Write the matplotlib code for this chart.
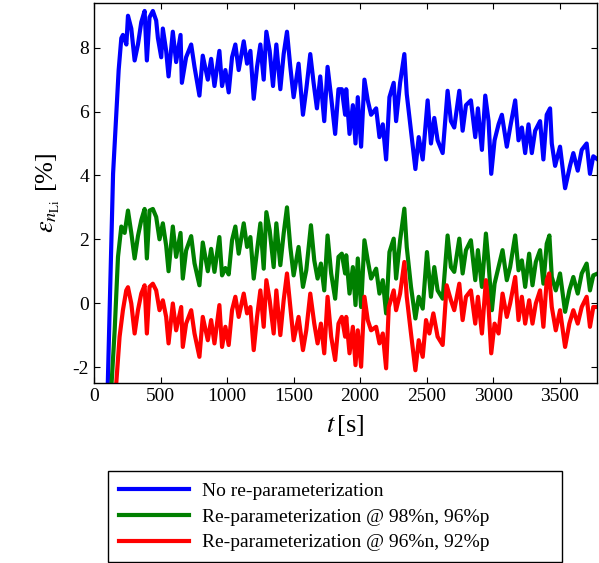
import numpy as np
import matplotlib.pyplot as plt

plt.rcParams['font.family'] = 'Liberation Serif'
plt.rcParams['mathtext.fontset'] = 'stix'
plt.rcParams['axes.unicode_minus'] = False

# values: time [s] and error [%]
t_blue = [98, 143, 168, 185, 205, 217, 243, 255, 280, 305, 330, 355, 380, 397, 417, 442, 467, 480, 505, 517,
          542, 560, 592, 617, 650, 660, 692, 730, 755, 792, 817, 855, 880, 905, 942,
          962, 987, 1012, 1037, 1062, 1087, 1125, 1150, 1175, 1200, 1225, 1250, 1275, 1295, 1320, 1345, 1370, 1400,
          1425, 1450, 1475, 1500, 1537, 1570, 1595, 1625, 1650, 1675, 1700, 1730, 1755, 1782, 1812, 1837, 1862, 1887,
          1895, 1920, 1945, 1965, 1982, 2007, 2032, 2057, 2082, 2120, 2145, 2170, 2195, 2220, 2252, 2270, 2300, 2332,
          2350, 2382, 2415, 2440, 2470, 2507, 2532, 2557, 2582, 2620, 2657, 2682, 2707, 2745, 2770, 2795, 2832,
          2865, 2885, 2915, 2940, 2965, 2985, 3010, 3040, 3065, 3102, 3127, 3165, 3190, 3215, 3240, 3265, 3290, 3315,
          3352, 3377, 3402, 3427, 3440, 3465, 3502, 3540, 3577, 3602, 3635, 3665, 3702, 3727, 3752, 3785]
e_blue = [-3.4, 4.05, 6.0, 7.3, 8.3, 8.4, 8.1, 9.0, 8.6, 7.6, 8.1, 8.8, 9.15, 7.6, 8.95, 9.15, 8.85, 8.3, 7.7, 8.6,
          7.9, 7.1, 8.5, 7.55, 8.4, 6.9, 7.7, 8.1, 7.4, 6.5, 7.75, 7.0, 7.65, 6.8, 7.9,
          6.8, 7.3, 6.6, 7.7, 8.1, 7.3, 8.2, 7.5, 7.9, 6.4, 7.4, 8.1, 7.0, 8.5, 7.9, 6.8, 8.1, 6.7,
          7.8, 8.5, 7.4, 6.45, 7.5, 5.9, 6.7, 7.8, 6.9, 6.1, 7.1, 5.7, 7.4, 6.45, 5.3, 6.7, 6.7, 5.9,
          6.7, 5.3, 6.2, 5.0, 6.45, 4.9, 7.0, 6.35, 5.9, 6.1, 5.2, 5.6, 4.5, 6.45, 6.9, 5.7, 6.9, 7.8,
          6.55, 5.4, 4.2, 5.2, 4.5, 6.35, 5.0, 5.8, 5.1, 4.7, 6.65, 5.7, 5.5, 6.65, 5.4, 6.2, 6.35,
          5.2, 6.1, 4.8, 6.5, 5.7, 4.05, 5.1, 5.6, 5.9, 4.9, 5.5, 6.35, 5.1, 5.5, 4.7, 5.6, 4.7, 5.4,
          5.7, 4.5, 5.9, 6.1, 5.0, 4.3, 4.9, 3.6, 4.3, 4.7, 4.15, 4.8, 5.0, 4.05, 4.6, 4.5]

t_green = [118, 155, 180, 205, 230, 255, 280, 305, 330, 355, 380, 397, 417, 442, 467, 492, 517, 542, 560, 592,
           617, 650, 667, 692, 730, 755, 792, 817, 855, 880, 905, 942,
           962, 987, 1012, 1037, 1062, 1087, 1125, 1150, 1175, 1200, 1225, 1250, 1275, 1295, 1320, 1350, 1370, 1400,
           1425, 1450, 1475, 1500, 1537, 1570, 1595, 1630, 1655, 1680, 1705, 1730, 1755, 1782, 1812, 1837, 1862, 1887,
           1895, 1920, 1945, 1965, 1982, 2007, 2032, 2057, 2082, 2120, 2145, 2170, 2195, 2220, 2252, 2270, 2300, 2332,
           2350, 2382, 2415, 2440, 2470, 2502, 2532, 2557, 2582, 2620, 2657, 2682, 2707, 2745, 2770, 2795, 2832,
           2865, 2885, 2915, 2945, 2965, 2990, 3010, 3040, 3070, 3102, 3127, 3165, 3190, 3215, 3240, 3270, 3295, 3320,
           3352, 3377, 3402, 3422, 3440, 3470, 3502, 3540, 3572, 3602, 3635, 3665, 3702, 3727, 3752, 3785]
e_green = [-3.5, -0.85, 1.45, 2.4, 2.2, 2.9, 2.2, 1.4, 2.1, 2.6, 2.95, 1.4, 2.9, 2.95, 2.7, 2.0, 2.5, 1.8, 1.0, 2.4,
           1.45, 2.2, 0.77, 1.65, 2.1, 1.25, 0.56, 1.9, 1.0, 1.7, 0.98, 2.07,
           0.87, 1.1, 0.9, 1.97, 2.4, 1.55, 2.5, 1.76, 2.07, 0.77, 1.65, 2.5, 1.08, 2.85, 2.28, 1.13, 2.5, 1.19,
           2.18, 3.0, 1.76, 0.87, 1.76, 0.51, 1.03, 2.44, 1.34, 0.77, 1.24, 0.4, 2.12, 0.93, 0.14, 1.45, 1.55, 0.93,
           1.5, 0.3, 1.13, -0.06, 1.4, -0.12, 1.97, 1.34, 0.77, 1.08, 0.3, 0.72, -0.32, 1.6, 2.02, 0.77, 1.97, 2.96,
           1.76, 0.51, -0.48, 0.2, -0.17, 1.6, 0.2, 1.13, 0.4, 0.14, 2.12, 1.13, 0.98, 2.02, 0.93, 1.66, 1.97,
           0.72, 1.66, 0.51, 2.18, 1.24, -0.22, 0.61, 1.13, 1.66, 0.72, 1.13, 2.12, 1.03, 1.34, 0.51, 1.55, 0.56, 1.29,
           1.66, 0.61, 1.86, 2.12, 0.82, 0.4, 0.93, -0.27, 0.4, 0.82, 0.3, 0.93, 1.24, 0.4, 0.87, 0.93]

t_red = [150, 192, 217, 242, 255, 280, 305, 330, 355, 380, 397, 417, 442, 467, 492, 517, 542, 560, 592, 617,
         655, 667, 692, 730, 755, 792, 817, 855, 880, 905, 942,
         962, 987, 1012, 1037, 1062, 1087, 1125, 1150, 1175, 1200, 1225, 1250, 1275, 1295, 1320, 1350, 1370, 1400,
         1425, 1450, 1475, 1500, 1537, 1570, 1595, 1625, 1655, 1680, 1705, 1730, 1755, 1782, 1812, 1837, 1862, 1887,
         1895, 1920, 1945, 1965, 1982, 2007, 2032, 2057, 2082, 2120, 2145, 2170, 2195, 2215, 2252, 2270, 2300, 2332,
         2350, 2382, 2415, 2440, 2470, 2495, 2520, 2550, 2582, 2620, 2650, 2682, 2707, 2745, 2770, 2795, 2832,
         2865, 2885, 2915, 2945, 2965, 2985, 3010, 3040, 3070, 3102, 3127, 3165, 3190, 3215, 3240, 3270, 3295, 3320,
         3352, 3377, 3402, 3420, 3440, 3470, 3502, 3540, 3572, 3602, 3635, 3665, 3702, 3727, 3752, 3785]
e_red = [-3.5, -1.05, -0.22, 0.4, 0.5, -0.01, -0.95, -0.22, 0.3, 0.56, -0.95, 0.51, 0.61, 0.4, -0.22, 0.09, -0.43,
         -1.26, -0.01, -0.85, -0.12, -1.37, -0.64, -0.22, -0.95, -1.68, -0.43, -1.16, -0.53, -1.26, -0.06,
         -1.37, -0.74, -1.31, -0.22, 0.2, -0.43, 0.3, -0.32, -0.12, -1.47, -0.43, 0.4, -0.74, 0.72, 0.09, -0.95, 0.4,
         -1.0, 0.09, 0.93, -0.12, -1.16, -0.43, -1.47, -0.85, 0.3, -0.64, -1.26, -0.64, -1.57, 0.2, -1.05, -1.78,
         -0.64, -0.43, -1.05,
         -0.43, -1.57, -0.74, -1.94, -0.85, -1.99, 0.2, -0.53, -0.85, -0.74, -1.26, -0.95, -2.04, -0.12, 0.4, -0.22,
         0.3, 1.29, 0.2, -0.95, -2.1, -1.16, -1.68, -0.53, -0.95, -0.32, -1.05, -1.31, 0.56, 0.09, -0.22, 0.61,
         -0.53, 0.2, 0.4,
         -0.64, 0.2, -0.95, 0.72, -0.12, -1.57, -0.64, -0.95, 0.3, -0.43, -0.01, 0.82, -0.53, 0.2, -0.64, 0.09,
         -0.64, -0.01, 0.4, -0.74, 0.72, 0.93, -0.12, -0.85, -0.22, -1.37, -0.64, -0.22, -0.64, -0.12, 0.2, -0.74,
         -0.12, -0.12]

labels = ['No re-parameterization',
          'Re-parameterization @ 98%n, 96%p',
          'Re-parameterization @ 96%n, 92%p']

fig = plt.figure(figsize=(5.99, 5.63), dpi=100)
ax = fig.add_axes([0.157, 0.3197, 0.8397, 0.675])

ax.plot(t_blue, e_blue, color=(0, 0, 1), lw=3.0, label=labels[0])
ax.plot(t_green, e_green, color=(0, 0.5, 0), lw=3.0, label=labels[1])
ax.plot(t_red, e_red, color=(1, 0, 0), lw=3.0, label=labels[2])

ax.set_xlim(0, 3780)
ax.set_ylim(-2.5, 9.4)
ax.set_xticks(np.arange(0, 3501, 500))
ax.set_yticks([-2, 0, 2, 4, 6, 8])
ax.tick_params(direction='in', top=True, right=True, labelsize=14, length=4, width=0.8)
for s in ax.spines.values():
    s.set_linewidth(1.0)

ax.set_xlabel(r'$t\,$[s]', fontsize=19, labelpad=6)
ax.set_ylabel(r'$\varepsilon_{n_{\mathrm{Li}}}$ [%]', fontsize=19, labelpad=8)

leg = fig.legend(loc='upper left', bbox_to_anchor=(0.180, 0.005, 0.758, 0.158), mode='expand',
                 borderaxespad=0, borderpad=0.55, fontsize=14, handlelength=3.6, handletextpad=0.7,
                 labelspacing=0.43, fancybox=False, framealpha=1, edgecolor='black')
leg.get_frame().set_linewidth(1.0)
for h in leg.get_lines():
    h.set_linewidth(3)

fig.savefig('out.png', dpi=100)
